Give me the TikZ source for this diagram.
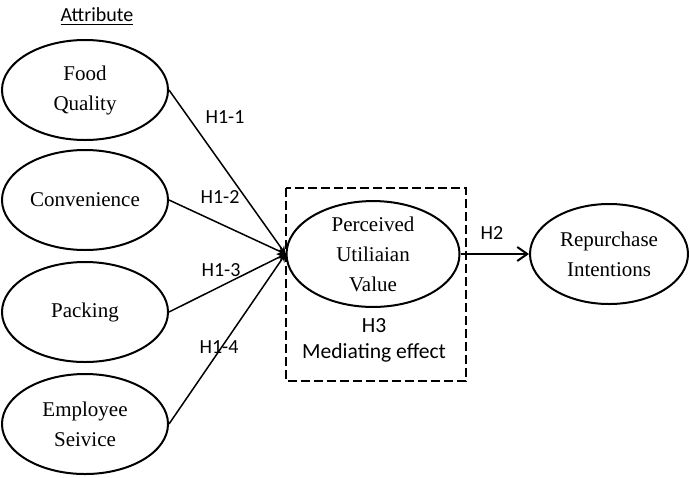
\documentclass[tikz,border=0pt]{standalone}
\usepackage{fontspec}
\setmainfont{Liberation Serif}
\newfontfamily\hypfont{Carlito}
\usetikzlibrary{shapes.geometric,arrows.meta}
\tikzset{
  construct/.style={draw,ellipse,line width=1pt,inner sep=0pt,align=center,
    minimum width=83pt,minimum height=50pt,font=\fontsize{10.5}{15}\selectfont},
  hyp/.style={align=center,font=\hypfont\fontsize{10}{13}\selectfont},
  link/.style={-stealth,line width=.75pt},
  mediator/.style={dash pattern=on 4.5pt off 2pt,line width=1.1pt}
}
\begin{document}
\begin{tikzpicture}[x=.5pt,y=-.5pt]
  \useasboundingbox (0,0) rectangle (689,477);
  % attributes
  \node[hyp] (attr) at(97,17){\underline{Attribute}};
  \node[construct] (food) at(85,90){Food\\Quality};
  \node[construct] (conv) at(85,200){Convenience};
  \node[construct] (pack) at(85,312){Packing};
  \node[construct] (emp) at(85,424){Employee\\Seivice};
  % mediator
  \node[construct,minimum width=86.5pt,minimum height=52pt] (puv) at(373,254){Perceived\\Utiliaian\\Value};
  \draw[mediator] (286,188) rectangle (466,381);
  \node[hyp,font=\hypfont\fontsize{10.8}{13}\selectfont] (h3) at(374,340){H3\\Mediating effect};
  % outcome
  \node[construct,minimum width=79pt] (rep) at(609,254){Repurchase\\Intentions};
  % H1
  \draw[link] (food.east) -- (puv.west);
  \draw[link] (conv.east) -- (puv.west);
  \draw[link] (pack.east) -- (puv.west);
  \draw[link] (emp.east) -- (puv.west);
  \node[hyp] (h11) at(225,117){H1-1};
  \node[hyp] (h12) at(220,197){H1-2};
  \node[hyp] (h13) at(221,270){H1-3};
  \node[hyp] (h14) at(219,347){H1-4};
  % H2
  \draw[-{Straight Barb[length=5pt,width=7pt]},line width=1pt] (puv.east) -- (rep.west);
  \node[hyp] (h2) at(492,233){H2};
\end{tikzpicture}
\end{document}
